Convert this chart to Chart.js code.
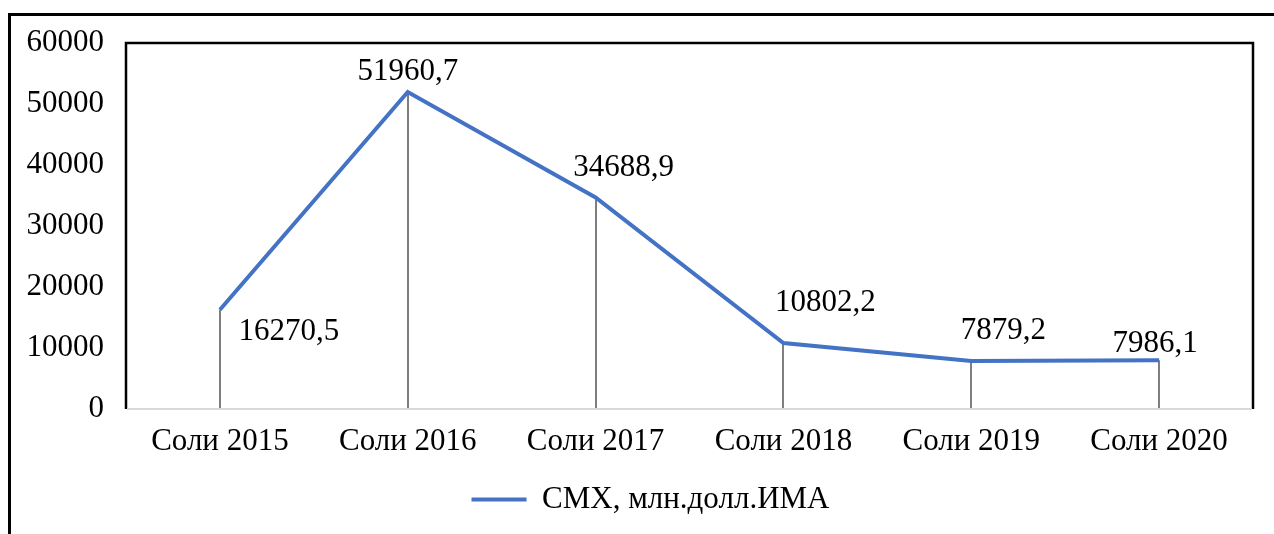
<!DOCTYPE html>
<html>

<head>
    <title>СМХ</title>
    <meta charset="utf-8">
    <script src="https://cdnjs.cloudflare.com/ajax/libs/Chart.js/4.4.1/chart.umd.js"></script>
    <style>
        html, body { margin: 0; padding: 0; background: #fff; }
        #wrap { width: 1274px; height: 534px; position: relative; }
    </style>
</head>

<body>
    <div id="wrap"><canvas id="smx_chart"></canvas></div>
</body>
<script>
    // data
    const years = ["Соли 2015", "Соли 2016", "Соли 2017", "Соли 2018", "Соли 2019", "Соли 2020"];
    const smx = [16270.5, 51960.7, 34688.9, 10802.2, 7879.2, 7986.1];
    const valueLabels = ["16270,5", "51960,7", "34688,9", "10802,2", "7879,2", "7986,1"];
    const seriesName = "СМХ, млн.долл.ИМА";

    // where each value label sits relative to its point (px)
    const labelShift = [[69, 22], [0, -20], [28, -30], [42, -40], [32, -30], [-4, -16]];

    const serif = "'Liberation Serif', 'Times New Roman', serif";
    const fontSize = 31;

    // outer frame, plot box and the grey drop lines
    const framePlugin = {
        id: 'frame',
        afterLayout(chart) {
            // legend is centred under the plot box, not the whole canvas
            const shift = 24;
            chart.legend.left += shift;
            chart.legend.right += shift;
        },
        beforeDatasetsDraw(chart) {
            const ctx = chart.ctx;
            const area = chart.chartArea;
            const meta = chart.getDatasetMeta(0);
            ctx.save();
            ctx.strokeStyle = '#7f7f7f';
            ctx.lineWidth = 2;
            meta.data.forEach(function (pt) {
                ctx.beginPath();
                ctx.moveTo(Math.round(pt.x), pt.y);
                ctx.lineTo(Math.round(pt.x), area.bottom);
                ctx.stroke();
            });
            ctx.restore();
        },
        afterDraw(chart) {
            const ctx = chart.ctx;
            const area = chart.chartArea;
            ctx.save();
            // outer border, runs off the right and bottom edge
            ctx.strokeStyle = '#000';
            ctx.lineWidth = 3;
            ctx.strokeRect(9.5, 14.5, 1400, 700);
            // plot box: black on three sides, grey axis at the bottom
            ctx.lineWidth = 2.5;
            ctx.beginPath();
            ctx.moveTo(area.left, area.bottom);
            ctx.lineTo(area.left, area.top);
            ctx.lineTo(area.right, area.top);
            ctx.lineTo(area.right, area.bottom);
            ctx.stroke();
            ctx.strokeStyle = '#d9d9d9';
            ctx.lineWidth = 2;
            ctx.beginPath();
            ctx.moveTo(area.left + 1, area.bottom);
            ctx.lineTo(area.right - 1, area.bottom);
            ctx.stroke();
            // value labels
            const meta = chart.getDatasetMeta(0);
            ctx.fillStyle = '#000';
            ctx.font = fontSize + 'px ' + serif;
            ctx.textAlign = 'center';
            ctx.textBaseline = 'middle';
            meta.data.forEach(function (pt, i) {
                ctx.fillText(valueLabels[i], pt.x + labelShift[i][0], pt.y + labelShift[i][1]);
            });
            ctx.restore();
        }
    };

    new Chart("smx_chart", {
        type: "line",
        data: {
            labels: years,
            datasets: [{
                label: seriesName,
                data: smx,
                borderColor: '#4472C4',
                backgroundColor: '#4472C4',
                borderWidth: 4,
                pointRadius: 0,
                pointHoverRadius: 0,
                tension: 0,
                fill: false
            }]
        },
        options: {
            responsive: true,
            maintainAspectRatio: false,
            animation: false,
            layout: { padding: { left: 0, right: 21, top: 43, bottom: 9 } },
            scales: {
                x: {
                    offset: true,
                    grid: { display: false },
                    border: { display: false },
                    ticks: { color: '#000', font: { family: serif, size: fontSize }, padding: 6, maxRotation: 0 },
                    afterFit(scale) { scale.height = 61; }
                },
                y: {
                    min: 0,
                    max: 60000,
                    grid: { display: false },
                    border: { display: false },
                    ticks: {
                        stepSize: 10000,
                        color: '#000',
                        font: { family: serif, size: fontSize },
                        padding: 14,
                        callback: function (v) { return String(v); }
                    },
                    afterFit(scale) { scale.width = 126; }
                }
            },
            plugins: {
                tooltip: { enabled: false },
                legend: {
                    position: 'bottom',
                    labels: {
                        usePointStyle: true,
                        pointStyle: 'line',
                        pointStyleWidth: 55,
                        boxHeight: 10,
                        color: '#000',
                        padding: 14,
                        font: { family: serif, size: fontSize }
                    }
                }
            }
        },
        plugins: [framePlugin]
    });
</script>
</html>
